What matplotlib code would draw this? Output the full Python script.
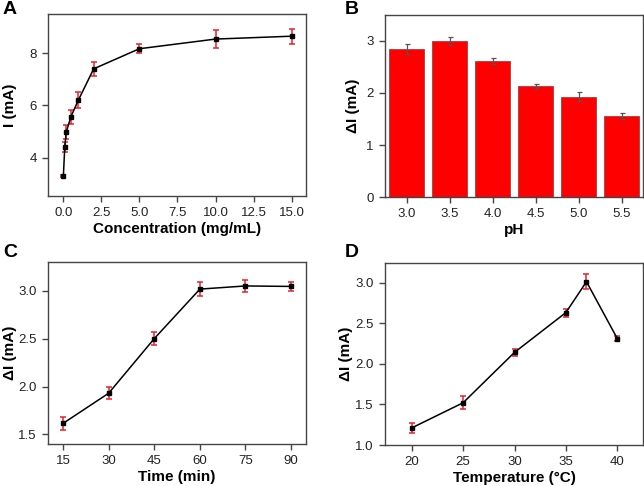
import matplotlib
matplotlib.use("Agg")
import matplotlib.pyplot as plt
import numpy as np

plt.rcParams['font.family'] = ['Liberation Sans', 'DejaVu Sans']

# Panel A
conc = [0.01, 0.1, 0.2, 0.5, 1, 2, 5, 10, 15]
conc_I = [3.30, 4.40, 4.98, 5.56, 6.21, 7.40, 8.17, 8.54, 8.65]
conc_err = [0.05, 0.18, 0.25, 0.27, 0.31, 0.27, 0.18, 0.34, 0.29]

# Panel B
ph_labels = ['3.0', '3.5', '4.0', '4.5', '5.0', '5.5']
ph_dI = [2.85, 3.00, 2.62, 2.13, 1.93, 1.56]
ph_err = [0.10, 0.08, 0.06, 0.05, 0.08, 0.06]

# Panel C
time_min = [15, 30, 45, 60, 75, 90]
time_dI = [1.615, 1.93, 2.50, 3.017, 3.05, 3.045]
time_err = [0.07, 0.06, 0.07, 0.077, 0.066, 0.05]

# Panel D
temp = [20, 25, 30, 35, 37, 40]
temp_dI = [1.21, 1.52, 2.14, 2.63, 3.01, 2.31]
temp_err = [0.06, 0.08, 0.04, 0.05, 0.09, 0.035]

W, H = 644, 486
fig = plt.figure(figsize=(W/100, H/100), dpi=100)

def ax_px(l, t, r, b):
    return fig.add_axes([l/W, 1-b/H, (r-l)/W, (b-t)/H])

spine_c = '#454545'
tick_c = '#222222'
LFS = 11

def style(ax):
    for s in ax.spines.values():
        s.set_color(spine_c)
        s.set_linewidth(1.0)
    ax.tick_params(colors=spine_c, labelcolor=tick_c, labelsize=9.5, length=4, width=1, pad=4)

def labels(ax, xl, yl, ylx):
    ax.set_xlabel(xl, fontsize=LFS, fontweight='bold', labelpad=2)
    ax.set_ylabel(yl, fontsize=LFS, fontweight='bold')
    ax.yaxis.set_label_coords(ylx, 0.5)

def line_panel(ax, x, y, e):
    ax.errorbar(x, y, yerr=e, fmt='none', ecolor='#e8202a', elinewidth=1.1,
                capsize=2, capthick=1.1, zorder=2)
    ax.plot(x, y, color='black', lw=1.1, marker='s', ms=3.5, zorder=3)

axA = ax_px(48, 14, 306, 196)
line_panel(axA, conc, conc_I, conc_err)
axA.set_xlim(-1.0, 15.94)
axA.set_ylim(2.53, 9.5)
axA.set_xticks([0, 2.5, 5, 7.5, 10, 12.5, 15])
axA.set_xticklabels(['0.0', '2.5', '5.0', '7.5', '10.0', '12.5', '15.0'])
axA.set_yticks([4, 6, 8])
labels(axA, 'Concentration (mg/mL)', 'I (mA)', -0.12)
style(axA)

axB = ax_px(385, 15, 643, 197)
xpos = np.arange(len(ph_labels))
axB.bar(xpos, ph_dI, width=0.8, color='#ff0000', edgecolor='#a04040', linewidth=0.6,
        yerr=ph_err, error_kw=dict(ecolor='#555555', elinewidth=0.9, capsize=1.8, capthick=0.9))
axB.set_xlim(-0.5, 5.5)
axB.set_ylim(0, 3.5)
axB.set_xticks(xpos)
axB.set_xticklabels(ph_labels)
axB.set_yticks([0, 1, 2, 3])
labels(axB, 'pH', 'ΔI (mA)', -0.097)
style(axB)

axC = ax_px(48, 262, 306, 444)
line_panel(axC, time_min, time_dI, time_err)
axC.set_xlim(10.06, 94.9)
axC.set_ylim(1.40, 3.30)
axC.set_xticks(time_min)
axC.set_yticks([1.5, 2.0, 2.5, 3.0])
axC.set_yticklabels(['1.5', '2.0', '2.5', '3.0'])
labels(axC, 'Time (min)', 'ΔI (mA)', -0.12)
style(axC)

axD = ax_px(385, 263, 643, 445)
line_panel(axD, temp, temp_dI, temp_err)
axD.set_xlim(17.4, 42.5)
axD.set_ylim(1.0, 3.24)
axD.set_xticks([20, 25, 30, 35, 40])
axD.set_yticks([1.0, 1.5, 2.0, 2.5, 3.0])
axD.set_yticklabels(['1.0', '1.5', '2.0', '2.5', '3.0'])
labels(axD, 'Temperature (°C)', 'ΔI (mA)', -0.124)
style(axD)

for lbl, x, y in [('A', 3, 1), ('B', 345, 1), ('C', 3, 244), ('D', 345, 244)]:
    fig.text(x/W, 1-y/H, lbl, fontsize=14, fontweight='bold', va='top', ha='left')

fig.savefig('out.png', dpi=100)
